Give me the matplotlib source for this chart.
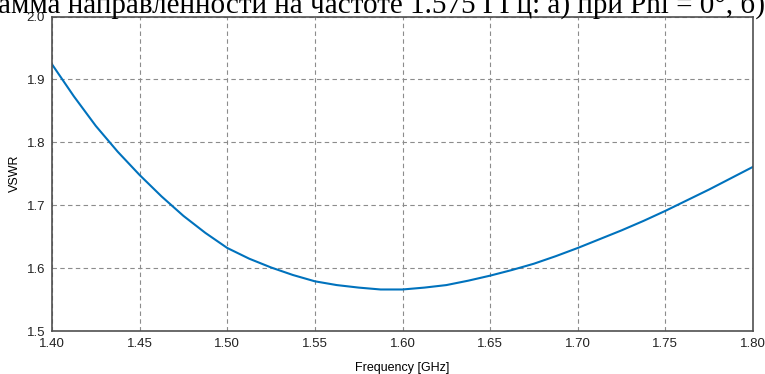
import numpy as np
import matplotlib.pyplot as plt

# valeurs (pas de 0.0125 GHz)
freq_ghz = [1.4000, 1.4125, 1.4250, 1.4375, 1.4500, 1.4625, 1.4750, 1.4875,
            1.5000, 1.5125, 1.5250, 1.5375, 1.5500, 1.5625, 1.5750, 1.5875,
            1.6000, 1.6125, 1.6250, 1.6375, 1.6500, 1.6625, 1.6750, 1.6875,
            1.7000, 1.7125, 1.7250, 1.7375, 1.7500, 1.7625, 1.7750, 1.7875,
            1.8000]
vswr = [1.924, 1.873, 1.826, 1.785, 1.748, 1.714, 1.683, 1.656,
        1.632, 1.615, 1.601, 1.589, 1.579, 1.573, 1.569, 1.566,
        1.566, 1.569, 1.573, 1.580, 1.588, 1.597, 1.607, 1.619,
        1.632, 1.646, 1.660, 1.675, 1.691, 1.708, 1.725, 1.743,
        1.761]

x_ticks = [1.40, 1.45, 1.50, 1.55, 1.60, 1.65, 1.70, 1.75, 1.80]
y_ticks = [1.5, 1.6, 1.7, 1.8, 1.9, 2.0]

caption = "амма направленности на частоте 1.575 ГГц: а) при Phi = 0°, б) при"

plt.rcParams['font.family'] = ['Liberation Sans', 'DejaVu Sans']

fig = plt.figure(figsize=(7.65, 3.74), dpi=100)
ax = fig.add_axes([52 / 765, 1 - 331 / 374, 701 / 765, 314.5 / 374])

ax.plot(freq_ghz, vswr, color='#0072BD', linewidth=1.5)

ax.set_xlim(1.40, 1.80)
ax.set_ylim(1.5, 2.0)
ax.set_xticks(x_ticks)
ax.set_xticklabels([f"{t:.2f}" for t in x_ticks])
ax.set_yticks(y_ticks)
ax.set_yticklabels([f"{t:.1f}" for t in y_ticks])
ax.tick_params(length=0, labelsize=9.5, colors='#222222', pad=5)

ax.grid(True, color='#8c8c8c', linestyle=(0, (4, 3)), linewidth=0.8)
for s in ax.spines.values():
    s.set_color('#505050')
    s.set_linewidth(1.2)

ax.set_xlabel('Frequency [GHz]', fontsize=9, labelpad=9)
ax.set_ylabel('VSWR', fontsize=9, labelpad=4)

# morceau de légende coupé en haut de la capture
fig.text(-0.002, 1 - 12.5 / 374, caption, family=['Liberation Serif', 'DejaVu Serif'],
         fontsize=21, va='baseline', ha='left')

fig.savefig('out.png', dpi=100)
